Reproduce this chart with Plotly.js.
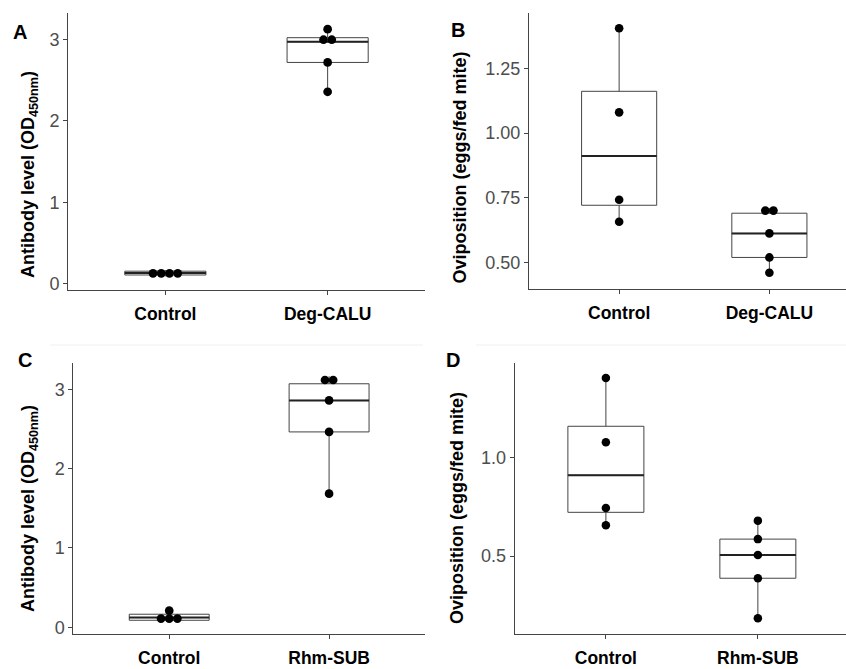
<!DOCTYPE html>
<html><head><meta charset="utf-8">
<script src="https://cdn.plot.ly/plotly-3.0.1.min.js"></script>
<style>html,body{margin:0;padding:0;background:#fff}#chart{width:846px;height:669px}</style>
</head><body><div id="chart"></div>
<script>
// ---- data ----
const categoriesA = ['Control', 'Deg-CALU'];
const categoriesB = ['Control', 'Deg-CALU'];
const categoriesC = ['Control', 'Rhm-SUB'];
const categoriesD = ['Control', 'Rhm-SUB'];

const antibodyControlA = [0.09, 0.113, 0.15, 0.166];
const antibodyDegCALU  = [2.356, 2.716, 2.97, 3.02, 3.125];
const ovipControlB     = [0.657, 0.742, 1.080, 1.405];
const ovipDegCALU      = [0.46, 0.519, 0.612, 0.69, 0.71];
const antibodyControlC = [0.07, 0.095, 0.15, 0.21];
const antibodyRhmSUB   = [1.685, 2.463, 2.86, 3.07, 3.165];
const ovipControlD     = [0.657, 0.744, 1.078, 1.405];
const ovipRhmSUB       = [0.184, 0.387, 0.505, 0.586, 0.68];

const tickValsAntibody = [0, 1, 2, 3];
const tickValsOvipB = [0.5, 0.75, 1.0, 1.25];
const tickValsOvipD = [0.5, 1.0];

const panelLetters = ['A', 'B', 'C', 'D'];
const antibodyTitle = '<b>Antibody level (OD<sub>450nm</sub>)</b>';
const ovipTitle = '<b>Oviposition (eggs/fed mite)</b>';

// ---- helpers ----
const W = 846, H = 669;
const FONT = 'Liberation Sans, Arial, Helvetica, sans-serif';
const LINE = '#444';

function quantile7(arr, p) {
  const s = [...arr].sort((a, b) => a - b);
  const h = (s.length - 1) * p, lo = Math.floor(h), hi = Math.ceil(h);
  return s[lo] + (h - lo) * (s[hi] - s[lo]);
}
function boxStats(arr) {
  const q1 = quantile7(arr, 0.25), med = quantile7(arr, 0.5), q3 = quantile7(arr, 0.75);
  const iqr = q3 - q1;
  const inl = arr.filter(v => v >= q1 - 1.5 * iqr && v <= q3 + 1.5 * iqr);
  return { q1, med, q3, lo: Math.min(...inl), hi: Math.max(...inl) };
}
function dotBins(arr, bw) {
  const s = [...arr].sort((a, b) => a - b);
  const bins = []; let end = -Infinity;
  for (const v of s) {
    if (v >= end) { bins.push([]); end = v + bw; }
    bins[bins.length - 1].push(v);
  }
  return bins.map(b => ({ c: (Math.min(...b) + Math.max(...b)) / 2, n: b.length }));
}

const panels = [
  { id: '', cats: categoriesA, groups: [antibodyControlA, antibodyDegCALU],
    xdom: [68 / W, 425 / W], ydom: [1 - 290 / H, 1 - 13 / H],
    xr: [0.4, 2.6], yr: [-0.077, 3.323], tv: tickValsAntibody, fmt: 'd',
    title: antibodyTitle, tpos: [30, 175], lpos: [20, 32] },
  { id: '2', cats: categoriesB, groups: [ovipControlB, ovipDegCALU],
    xdom: [529 / W, 1], ydom: [1 - 289 / H, 1 - 13 / H],
    xr: [0.4, 2.51], yr: [0.397, 1.464], tv: tickValsOvipB, fmt: '.2f',
    title: ovipTitle, tpos: [459.5, 168], lpos: [458, 30] },
  { id: '3', cats: categoriesC, groups: [antibodyControlC, antibodyRhmSUB],
    xdom: [73.3 / W, 425 / W], ydom: [1 - 634.3 / H, 1 - 363.3 / H],
    xr: [0.4, 2.6], yr: [-0.088, 3.328], tv: tickValsAntibody, fmt: 'd',
    title: antibodyTitle, tpos: [29.5, 508.5], lpos: [25, 360] },
  { id: '4', cats: categoriesD, groups: [ovipControlD, ovipRhmSUB],
    xdom: [514.7 / W, 1], ydom: [1 - 634.3 / H, 1 - 363.3 / H],
    xr: [0.4, 2.58], yr: [0.102, 1.48], tv: tickValsOvipD, fmt: '.1f',
    title: ovipTitle, tpos: [456.5, 508.5], lpos: [453, 360] }
];

const traces = [];
const layout = {
  width: W, height: H, margin: { l: 0, r: 0, t: 0, b: 0 },
  paper_bgcolor: '#fff', plot_bgcolor: 'rgba(0,0,0,0)',
  showlegend: false, font: { family: FONT },
  annotations: [],
  shapes: [
    { type: 'line', xref: 'paper', yref: 'paper', x0: 50 / W, x1: 423 / W, y0: 1 - 345 / H, y1: 1 - 345 / H, line: { color: '#f0f0f0', width: 1 } },
    { type: 'line', xref: 'paper', yref: 'paper', x0: 476 / W, x1: 1, y0: 1 - 345 / H, y1: 1 - 345 / H, line: { color: '#f0f0f0', width: 1 } }
  ]
};

panels.forEach((p, pi) => {
  const xa = 'x' + p.id, ya = 'y' + p.id;
  const all = p.groups.flat();
  const bw = (Math.max(...all) - Math.min(...all)) / 30;
  const yPx = (p.ydom[1] - p.ydom[0]) * H / (p.yr[1] - p.yr[0]);
  const xPx = (p.xdom[1] - p.xdom[0]) * W / (p.xr[1] - p.xr[0]);
  const dotD = bw * yPx;

  p.groups.forEach((g, gi) => {
    const pos = gi + 1;
    const st = boxStats(g);
    traces.push({
      type: 'box', xaxis: xa, yaxis: ya, x: [pos],
      q1: [st.q1], median: [st.med], q3: [st.q3], lowerfence: [st.lo], upperfence: [st.hi],
      width: 0.5, boxpoints: false, whiskerwidth: 0,
      fillcolor: 'rgba(255,255,255,0)', line: { color: LINE, width: 1 }, hoverinfo: 'skip'
    });
    // thicker median (ggplot fatten)
    traces.push({
      type: 'scatter', mode: 'lines', xaxis: xa, yaxis: ya,
      x: [pos - 0.25, pos + 0.25], y: [st.med, st.med],
      line: { color: '#222', width: 2 }, hoverinfo: 'skip'
    });
    // dotplot points
    const xs = [], ys = [];
    dotBins(g, bw).forEach(b => {
      for (let k = 0; k < b.n; k++) {
        xs.push(pos + (k - (b.n - 1) / 2) * dotD / xPx);
        ys.push(b.c);
      }
    });
    traces.push({
      type: 'scatter', mode: 'markers', xaxis: xa, yaxis: ya, x: xs, y: ys,
      marker: { color: '#000', size: dotD + 0.5, line: { width: 0 } }, hoverinfo: 'skip', cliponaxis: false
    });
  });

  layout['xaxis' + p.id] = {
    domain: p.xdom, range: p.xr, anchor: ya, showgrid: false, zeroline: false,
    showline: true, linecolor: LINE, linewidth: 1, ticks: 'outside', ticklen: 4, tickcolor: LINE,
    tickvals: [1, 2], ticktext: p.cats, ticklabelstandoff: 4,
    tickfont: { family: FONT, size: 17.5, color: '#000', weight: 'bold' }, fixedrange: true
  };
  layout['yaxis' + p.id] = {
    domain: p.ydom, range: p.yr, anchor: xa, showgrid: false, zeroline: false,
    showline: true, linecolor: LINE, linewidth: 1, ticks: 'outside', ticklen: 4, tickcolor: LINE,
    tickvals: p.tv, tickformat: p.fmt,
    tickfont: { family: FONT, size: 18, color: '#4d4d4d' }, fixedrange: true
  };
  layout.annotations.push({
    xref: 'paper', yref: 'paper', x: p.tpos[0] / W, y: 1 - p.tpos[1] / H,
    xanchor: 'center', yanchor: 'middle', textangle: -90, showarrow: false,
    text: p.title, font: { family: FONT, size: 18, color: '#000' }
  });
  layout.annotations.push({
    xref: 'paper', yref: 'paper', x: p.lpos[0] / W, y: 1 - p.lpos[1] / H,
    xanchor: 'center', yanchor: 'middle', showarrow: false,
    text: '<b>' + panelLetters[pi] + '</b>', font: { family: FONT, size: 20, color: '#000' }
  });
});

Plotly.newPlot('chart', traces, layout, { staticPlot: true, displayModeBar: false });
</script></body></html>
